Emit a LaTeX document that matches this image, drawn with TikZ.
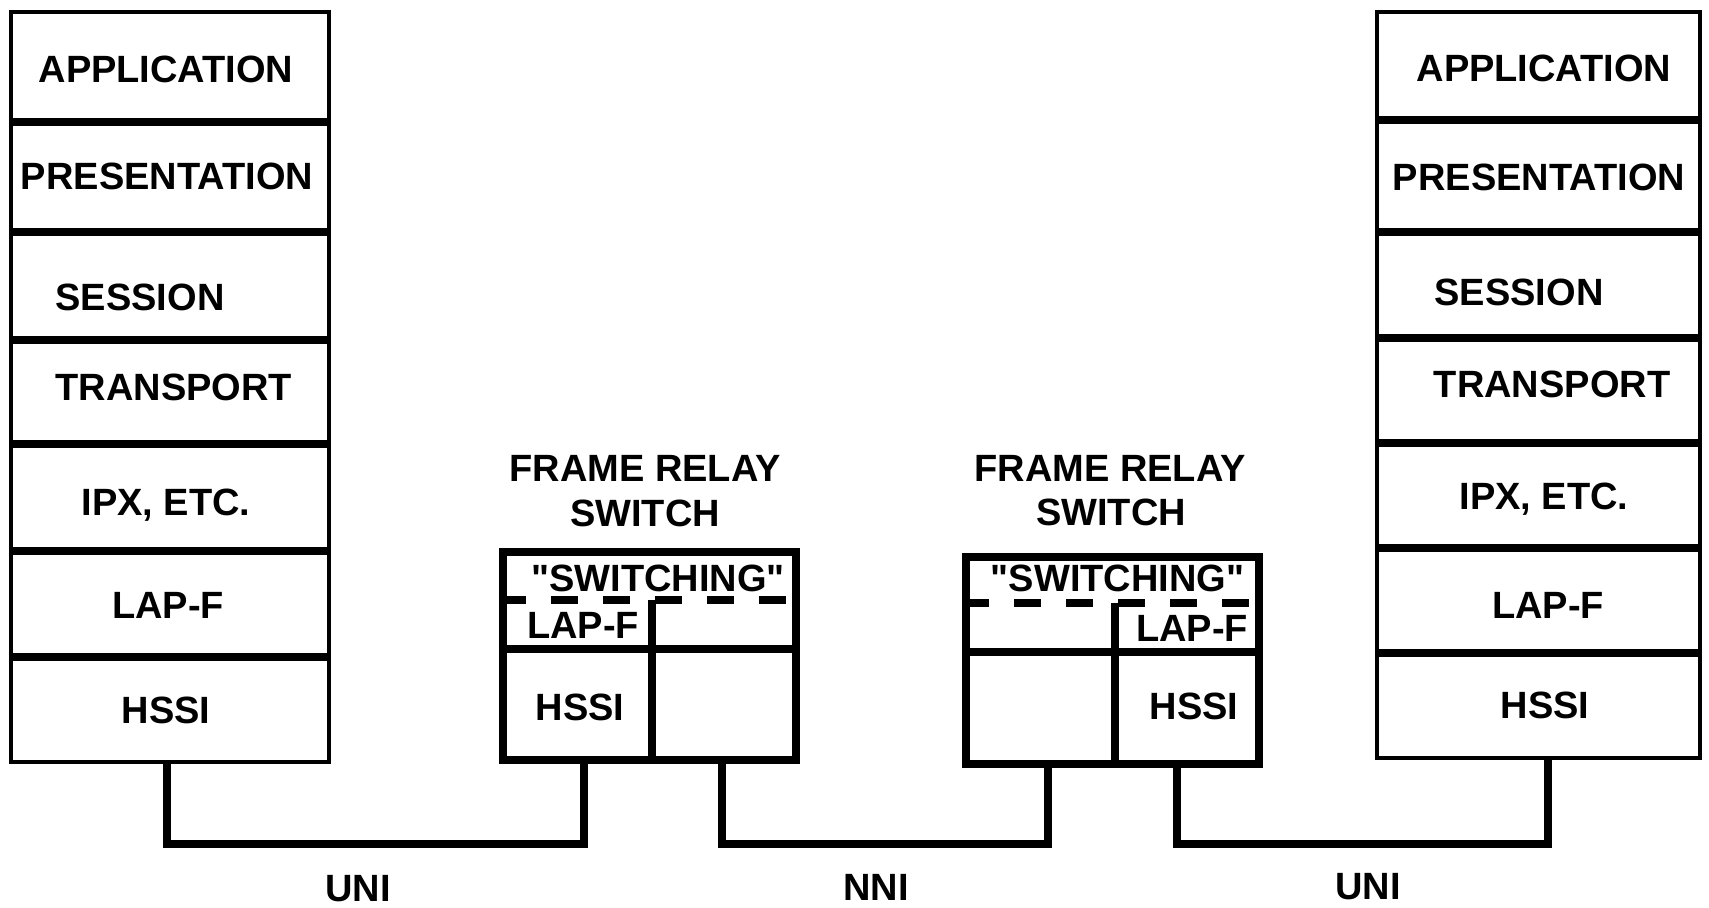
\documentclass[tikz,border=0pt]{standalone}
\usepackage{fontspec}
\setmainfont{Liberation Sans}[Ligatures=TeXOff]
\begin{document}
\begin{tikzpicture}[x=1pt,y=-1pt,
  lbl/.style={font=\fontsize{38}{44}\selectfont\bfseries, inner sep=0pt, text height=27.5pt, text depth=0pt, anchor=center},
  layerL/.style={draw, line width=4pt, rectangle, inner sep=0pt, minimum width=318pt},
  layerR/.style={draw, line width=4pt, rectangle, inner sep=0pt, minimum width=323pt},
  swbox/.style={draw, line width=8pt, rectangle, inner sep=0pt},
  swline/.style={line width=8pt},
  swdash/.style={line width=8pt, dash pattern=on 27pt off 25pt},
  conn/.style={line width=8pt}]
\useasboundingbox (0,0) rectangle (1709,908);

% ---- left stack ----
\node[layerL, minimum height=108pt] (lapp)  at (170,66)    {};
\node[layerL, minimum height=106pt] (lpres) at (170,177)   {};
\node[layerL, minimum height=104pt] (lsess) at (170,286)   {};
\node[layerL, minimum height=100pt] (ltran) at (170,392)   {};
\node[layerL, minimum height=103pt] (lipx)  at (170,497.5) {};
\node[layerL, minimum height=102pt] (llap)  at (170,604)   {};
\node[layerL, minimum height=103pt] (lhssi) at (170,710.5) {};
\node[lbl] (tlapp)  at (166,69)  {APPLICATION};
\node[lbl] (tlpres) at (167,176) {PRESENTATION};
\node[lbl] (tlsess) at (140,297) {SESSION};
\node[lbl] (tltran) at (174,387) {TRANSPORT};
\node[lbl] (tlipx)  at (166,502) {IPX, ETC.};
\node[lbl] (tllap)  at (168,605) {LAP-F};
\node[lbl] (tlhssi) at (166,710) {HSSI};

% ---- right stack ----
\node[layerR, minimum height=106pt] (rapp)  at (1538.5,65)    {};
\node[layerR, minimum height=108pt] (rpres) at (1538.5,176)   {};
\node[layerR, minimum height=102pt] (rsess) at (1538.5,285)   {};
\node[layerR, minimum height=101pt] (rtran) at (1538.5,390.5) {};
\node[layerR, minimum height=101pt] (ripx)  at (1538.5,495.5) {};
\node[layerR, minimum height=101pt] (rlap)  at (1538.5,600.5) {};
\node[layerR, minimum height=103pt] (rhssi) at (1538.5,706.5) {};
\node[lbl] (trapp)  at (1544,68)  {APPLICATION};
\node[lbl] (trpres) at (1539,177) {PRESENTATION};
\node[lbl] (trsess) at (1519,292) {SESSION};
\node[lbl] (trtran) at (1552,384) {TRANSPORT};
\node[lbl] (tripx)  at (1544,496) {IPX, ETC.};
\node[lbl] (trlap)  at (1548,605) {LAP-F};
\node[lbl] (trhssi) at (1545,705) {HSSI};

% ---- switch 1 ----
\node[lbl] (s1t1) at (645,468)   {FRAME RELAY};
\node[lbl] (s1t2) at (645,512.5) {SWITCH};
\node[swbox, minimum width=293.5pt, minimum height=208pt] (sw1) at (649.25,656) {};
\draw[swdash] ([yshift=-52pt]sw1.north west) -- ([yshift=-52pt]sw1.north east);
\draw[swline] ([yshift=-100.5pt]sw1.north west) -- ([yshift=-100.5pt]sw1.north east);
\draw[swline] ([xshift=153.5pt,yshift=-52pt]sw1.north west) -- ([xshift=153.5pt]sw1.south west);
\node[lbl] (s1sw)   at (658,578) {"SWITCHING"};
\node[lbl] (s1lap)  at (583,625) {LAP-F};
\node[lbl] (s1hssi) at (580,707) {HSSI};

% ---- switch 2 ----
\node[lbl] (s2t1) at (1110,468) {FRAME RELAY};
\node[lbl] (s2t2) at (1111,512) {SWITCH};
\node[swbox, minimum width=293pt, minimum height=207pt] (sw2) at (1112.5,660.5) {};
\draw[swdash] ([yshift=-50pt]sw2.north west) -- ([yshift=-50pt]sw2.north east);
\draw[swline] ([yshift=-99pt]sw2.north west) -- ([yshift=-99pt]sw2.north east);
\draw[swline] ([xshift=153pt,yshift=-50pt]sw2.north west) -- ([xshift=153pt]sw2.south west);
\node[lbl] (s2sw)   at (1117.5,578) {"SWITCHING"};
\node[lbl] (s2lap)  at (1192,627.5) {LAP-F};
\node[lbl] (s2hssi) at (1194,706)   {HSSI};

% ---- connectors ----
\coordinate (u1a) at (167,844);
\coordinate (u1b) at (584,844);
\coordinate (n1a) at (722,844);
\coordinate (n1b) at (1047.5,844);
\coordinate (u2a) at (1177,844);
\coordinate (u2b) at (1548,844);
\draw[conn] (lhssi.south -| u1a) -- (u1a) -- (u1b) -- (sw1.south -| u1b);
\draw[conn] (sw1.south -| n1a) -- (n1a) -- (n1b) -- (sw2.south -| n1b);
\draw[conn] (sw2.south -| u2a) -- (u2a) -- (u2b) -- (rhssi.south -| u2b);

\node[lbl] (uniL) at (358,888)  {UNI};
\node[lbl] (nni)  at (876,887)  {NNI};
\node[lbl] (uniR) at (1368,886) {UNI};
\end{tikzpicture}
\end{document}
